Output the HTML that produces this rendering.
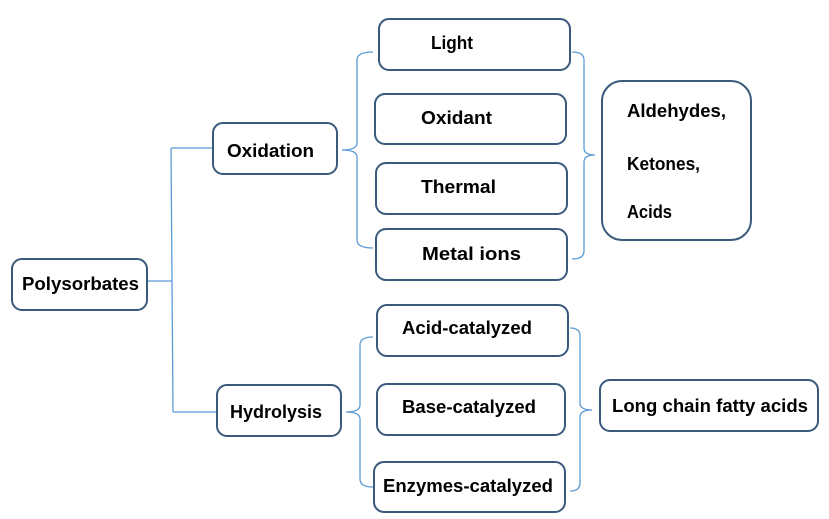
<!DOCTYPE html>
<html><head><meta charset="utf-8"><style>
html,body{margin:0;padding:0;background:#fff;}
svg{display:block;}
text{font-family:"Liberation Sans",Arial,sans-serif;font-weight:bold;font-size:18px;fill:#000;}
</style></head><body>
<svg width="829" height="519" viewBox="0 0 829 519" xmlns="http://www.w3.org/2000/svg">
<g fill="#fff" stroke="#3a5a7d" stroke-width="2">
<rect x="12" y="259" width="135" height="51" rx="10"/>
<rect x="213" y="123" width="124" height="51" rx="10"/>
<rect x="217" y="385" width="124" height="51" rx="10"/>
<rect x="379" y="19" width="191" height="51" rx="10"/>
<rect x="375" y="94" width="191" height="50" rx="10"/>
<rect x="376" y="163" width="191" height="51" rx="10"/>
<rect x="376" y="229" width="191" height="51" rx="10"/>
<rect x="377" y="305" width="191" height="51" rx="10"/>
<rect x="377" y="384" width="188" height="51" rx="10"/>
<rect x="374" y="462" width="191" height="50" rx="10"/>
<rect x="600" y="380" width="218" height="51" rx="10"/>
<rect x="602" y="81" width="149" height="159" rx="20"/>
</g>
<g fill="none" stroke="#5b9bd5" stroke-width="1.3">
<path d="M148,281 H172 M171,148 L173,412 M171,148 H212 M173,412 H216"/>
<path d="M373,52 Q357,52 357,60 L357,143 Q357,150 342,150 Q357,150 357,157 L357,240 Q357,248 373,248"/>
<path d="M572,52 Q584,52 584,60 L584,148 Q584,155 595,155 Q584,155 584,162 L584,251 Q584,259 572,259"/>
<path d="M373,337 Q360,337 360,345 L360,405 Q360,412 346,412 Q360,412 360,419 L360,479 Q360,487 373,487"/>
<path d="M570,328 Q580,328 580,336 L580,403 Q580,410 592,410 Q580,410 580,417 L580,483 Q580,491 570,491"/>
</g>
<text x="22" y="290" textLength="117" lengthAdjust="spacingAndGlyphs">Polysorbates</text>
<text x="227" y="157" textLength="87" lengthAdjust="spacingAndGlyphs">Oxidation</text>
<text x="230" y="418" textLength="92" lengthAdjust="spacingAndGlyphs">Hydrolysis</text>
<text x="431" y="49" textLength="42" lengthAdjust="spacingAndGlyphs">Light</text>
<text x="421" y="124" textLength="71" lengthAdjust="spacingAndGlyphs">Oxidant</text>
<text x="421" y="193" textLength="75" lengthAdjust="spacingAndGlyphs">Thermal</text>
<text x="422" y="260" textLength="99" lengthAdjust="spacingAndGlyphs">Metal  ions</text>
<text x="402" y="334" textLength="130" lengthAdjust="spacingAndGlyphs">Acid-catalyzed</text>
<text x="402" y="413" textLength="134" lengthAdjust="spacingAndGlyphs">Base-catalyzed</text>
<text x="383" y="492" textLength="170" lengthAdjust="spacingAndGlyphs">Enzymes-catalyzed</text>
<text x="612" y="412" textLength="196" lengthAdjust="spacingAndGlyphs">Long chain fatty acids</text>
<text x="627" y="117" textLength="99" lengthAdjust="spacingAndGlyphs">Aldehydes,</text>
<text x="627" y="170" textLength="73" lengthAdjust="spacingAndGlyphs">Ketones,</text>
<text x="627" y="218" textLength="45" lengthAdjust="spacingAndGlyphs">Acids</text>
</svg>
</body></html>
